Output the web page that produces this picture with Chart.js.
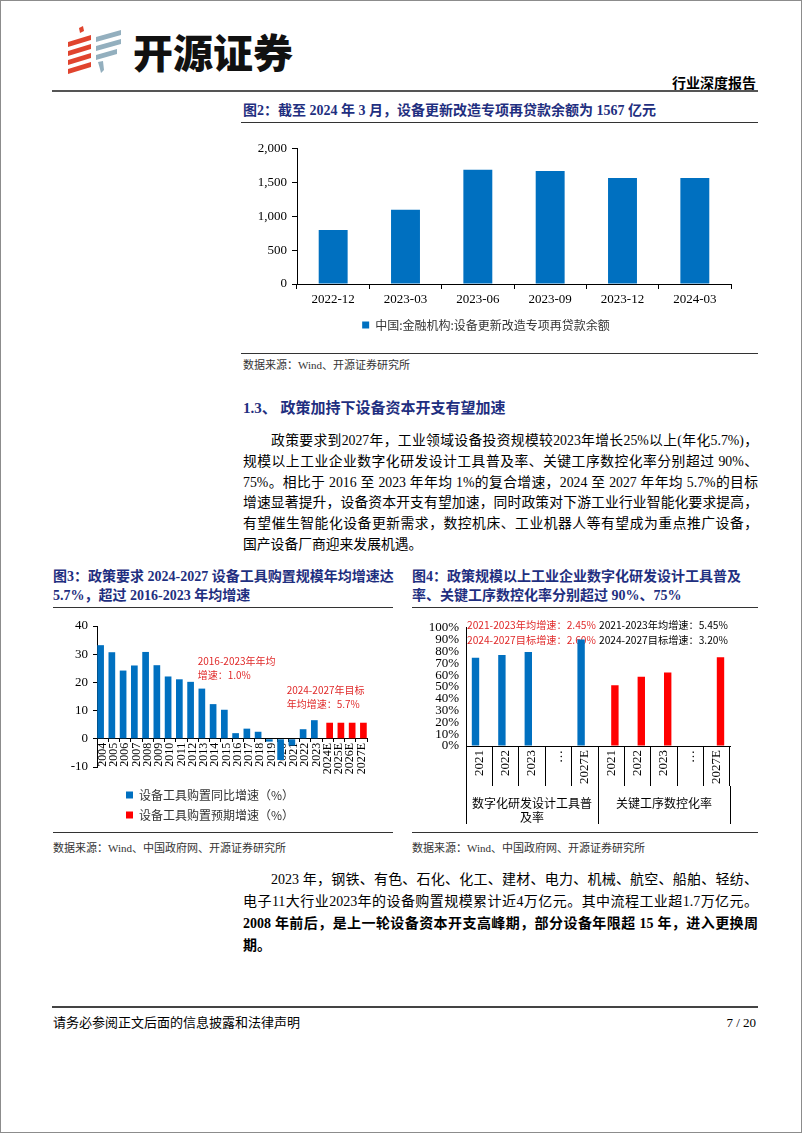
<!DOCTYPE html>
<html lang="zh-CN">
<head>
<meta charset="utf-8">
<title>开源证券 行业深度报告 7/20</title>
<script src="https://cdn.jsdelivr.net/npm/chart.js@4.4.1/dist/chart.umd.min.js"></script>
<style>
*{box-sizing:border-box;}
html,body{margin:0;padding:0;background:#fff;}
#page{position:relative;width:802px;height:1133px;border:1px solid #8c8c8c;overflow:hidden;
 font-family:"Liberation Serif","Noto Sans CJK SC",serif;color:#000;}
.a{position:absolute;white-space:nowrap;}
.navy{color:#1F2F80;font-weight:bold;}
.rule{position:absolute;height:0;border-top:1px solid #333;}
canvas{position:absolute;}
.p{position:absolute;left:242px;width:515px;font-size:13.8px;}
.p div{text-align:justify;text-align-last:justify;}
.p div.last{text-align-last:left;}
.src{font-size:11px;color:#333;line-height:14px;}
</style>
</head>
<body>
<div id="page">
  <svg class="a" style="left:64px;top:24px;" width="60" height="50" viewBox="0 0 60 50">
    <g fill="#E0442E">
      <polygon points="14,3 18,1 19,6 15,8"/>
      <polygon points="3,17 26,10 26,15 3,22"/>
      <polygon points="3,26 26,19 26,24 3,31"/>
      <polygon points="3,35 26,28 26,33 3,40"/>
      <polygon points="3,44 26,37 26,42 3,49"/>
    </g>
    <g fill="#93AFBE">
      <polygon points="31,12 56,5 56,10 31,17"/>
      <polygon points="31,21 56,14 56,19 31,26"/>
      <polygon points="31,30 52,24 52,29 31,35"/>
      <polygon points="33,37 38,36 39,45 36,48 35,44"/>
    </g>
  </svg>
  <div class="a" style="left:132px;top:26px;font-family:'Noto Sans CJK SC';font-weight:900;font-size:40px;line-height:48px;color:#111;">开源证券</div>
  <div class="a" style="right:45px;top:72px;font-family:'Noto Sans CJK SC';font-weight:bold;font-size:14px;line-height:18px;">行业深度报告</div>
  <div class="rule" style="left:51px;top:89px;width:706px;border-top:2px solid #555;"></div>

  <div class="a navy" style="left:242px;top:101px;font-size:14px;line-height:18px;">图2：截至 2024 年 3 月，设备更新改造专项再贷款余额为 1567 亿元</div>
  <div class="rule" style="left:240px;top:121px;width:517px;"></div>
  <canvas id="c2" width="517" height="205" style="left:240px;top:135px;"></canvas>
  <div class="rule" style="left:240px;top:352px;width:517px;"></div>
  <div class="a src" style="left:242px;top:357px;">数据来源：Wind、开源证券研究所</div>

  <div class="a navy" style="left:242px;top:397px;font-size:15px;line-height:20px;">1.3、 政策加持下设备资本开支有望加速</div>
  <div class="p" style="top:430px;line-height:20.8px;">
    <div style="text-indent:28px;">政策要求到2027年，工业领域设备投资规模较2023年增长25%以上(年化5.7%)，</div>
    <div>规模以上工业企业数字化研发设计工具普及率、关键工序数控化率分别超过 90%、</div>
    <div>75%。相比于 2016 至 2023 年年均 1%的复合增速，2024 至 2027 年年均 5.7%的目标</div>
    <div>增速显著提升，设备资本开支有望加速，同时政策对下游工业行业智能化要求提高，</div>
    <div>有望催生智能化设备更新需求，数控机床、工业机器人等有望成为重点推广设备，</div>
    <div class="last">国产设备厂商迎来发展机遇。</div>
  </div>

  <div class="a navy" style="left:52px;top:566px;font-size:14px;line-height:19px;">图3：政策要求 2024-2027 设备工具购置规模年均增速达<br>5.7%，超过 2016-2023 年均增速</div>
  <div class="a navy" style="left:411px;top:566px;font-size:14px;line-height:19px;">图4：政策规模以上工业企业数字化研发设计工具普及<br>率、关键工序数控化率分别超过 90%、75%</div>
  <div class="rule" style="left:52px;top:606px;width:340px;"></div>
  <div class="rule" style="left:411px;top:606px;width:346px;"></div>
  <canvas id="c3" width="340" height="218" style="left:52px;top:612px;"></canvas>
  <canvas id="c4" width="346" height="213" style="left:411px;top:612px;"></canvas>
  <div class="rule" style="left:52px;top:831px;width:340px;"></div>
  <div class="rule" style="left:411px;top:831px;width:346px;"></div>
  <div class="a src" style="left:52px;top:840px;">数据来源：Wind、中国政府网、开源证券研究所</div>
  <div class="a src" style="left:411px;top:840px;">数据来源：Wind、中国政府网、开源证券研究所</div>

  <div class="p" style="top:868px;line-height:22px;font-size:14px;">
    <div style="text-indent:28px;">2023 年，钢铁、有色、石化、化工、建材、电力、机械、航空、船舶、轻纺、</div>
    <div>电子11大行业2023年的设备购置规模累计近4万亿元。其中流程工业超1.7万亿元。</div>
    <div style="font-weight:bold;">2008 年前后，是上一轮设备资本开支高峰期，部分设备年限超 15 年，进入更换周</div>
    <div class="last" style="font-weight:bold;">期。</div>
  </div>

  <div class="rule" style="left:51px;top:1005px;width:706px;border-top:2px solid #444;"></div>
  <div class="a" style="left:52px;top:1013px;font-size:13px;line-height:18px;">请务必参阅正文后面的信息披露和法律声明</div>
  <div class="a" style="right:45px;top:1013px;font-size:13px;line-height:18px;">7 / 20</div>
</div>

<script>
// ---------- data ----------
const c2Labels = ['2022-12','2023-03','2023-06','2023-09','2023-12','2024-03'];
const c2Values = [800, 1100, 1690, 1670, 1567, 1567];
const c2SeriesName = '中国:金融机构:设备更新改造专项再贷款余额';

const c3Years = ['2004','2005','2006','2007','2008','2009','2010','2011','2012','2013','2014','2015',
                 '2016','2017','2018','2019','2020','2021','2022','2023','2024E','2025E','2026E','2027E'];
const c3Actual = [33.2, 30.7, 24.2, 26.0, 30.8, 26.1, 22.1, 21.1, 20.2, 17.8, 12.3, 10.3,
                  2.0, 3.6, 2.5, -1.0, -7.5, -2.4, 3.4, 6.6, null, null, null, null];
const c3Target = [null, null, null, null, null, null, null, null, null, null, null, null,
                  null, null, null, null, null, null, null, null, 5.7, 5.7, 5.7, 5.7];
const c3SeriesNames = ['设备工具购置同比增速（%）', '设备工具购置预期增速（%）'];
const c3NoteA = ['2016-2023年年均', '增速：1.0%'];
const c3NoteB = ['2024-2027年目标', '年均增速：5.7%'];

const c4Years = ['2021','2022','2023','…','2027E','2021','2022','2023','…','2027E'];
const c4Groups = [['数字化研发设计工具普', '及率'], '关键工序数控化率'];
const c4Digital = [74.7, 77.0, 79.6, null, 90.0, null, null, null, null, null];
const c4NC = [null, null, null, null, null, 51.3, 58.6, 62.2, null, 75.0];
const c4NoteRed = ['2021-2023年均增速：2.45%', '2024-2027目标增速：2.60%'];
const c4NoteBlack = ['2021-2023年均增速：5.45%', '2024-2027目标增速：3.20%'];

// ---------- styles ----------
const BLUE = '#0070C0', RED = '#FF0000', NOTE_RED = '#E02A2A';
const SERIF = "'Liberation Serif','Noto Sans CJK SC'";
const CJK = "'Noto Sans CJK SC'";
Chart.defaults.font.family = SERIF;
Chart.defaults.color = '#000';
Chart.defaults.animation = false;
Chart.defaults.responsive = false;
Chart.defaults.devicePixelRatio = 1;
Chart.defaults.plugins.tooltip.enabled = false;

// text notes anchored on scale values; optional "to" = right limit (category value) the text must fit in
const notesPlugin = {
  id: 'notes',
  beforeDatasetsDraw(chart, args, opts) {
    if (!opts.items) return;
    const {ctx, scales} = chart;
    ctx.save();
    ctx.textBaseline = 'middle';
    ctx.textAlign = 'left';
    opts.items.forEach(n => {
      const x = scales.x.getPixelForValue(n.x) + (n.dx || 0);
      const y = scales.y.getPixelForValue(n.y);
      let size = opts.size;
      if (n.to !== undefined) {
        const avail = scales.x.getPixelForValue(n.to) - x - 2;
        ctx.font = size + 'px ' + opts.family;
        const w = Math.max(...n.lines.map(t => ctx.measureText(t).width));
        if (w > avail) size = size * avail / w;
      }
      ctx.font = size + 'px ' + opts.family;
      ctx.fillStyle = n.color;
      n.lines.forEach((t, i) => ctx.fillText(t, x, y + i * opts.gap));
    });
    ctx.restore();
  }
};

// ---------- chart 2 ----------
new Chart(document.getElementById('c2'), {
  type: 'bar',
  data: { labels: c2Labels, datasets: [{ label: c2SeriesName, data: c2Values, backgroundColor: BLUE,
          categoryPercentage: 1, barPercentage: 0.4 }] },
  options: {
    layout: { padding: { top: 12, right: 27, left: 0, bottom: 0 } },
    plugins: {
      legend: { position: 'bottom', labels: { boxWidth: 7, boxHeight: 7, padding: 10, color: '#333',
                font: { size: 12, family: CJK } } }
    },
    scales: {
      x: { grid: { offset: true, drawOnChartArea: false, color: '#000', tickLength: 5 },
           border: { color: '#000' },
           ticks: { font: { size: 13 }, padding: 3, maxRotation: 0 },
           afterFit(s) { s.height = 25; } },
      y: { min: 0, max: 2000,
           ticks: { stepSize: 500, font: { size: 13 }, padding: 5,
                    callback: v => v.toLocaleString('en-US') },
           grid: { drawOnChartArea: false, color: '#000', tickLength: 5 },
           border: { color: '#000' },
           afterFit(s) { s.width = 56; } }
    }
  }
});

// ---------- chart 3 ----------
new Chart(document.getElementById('c3'), {
  type: 'bar',
  data: { labels: c3Years, datasets: [
    { label: c3SeriesNames[0], data: c3Actual, backgroundColor: BLUE, categoryPercentage: 0.72, barPercentage: 1.65 },
    { label: c3SeriesNames[1], data: c3Target, backgroundColor: RED, categoryPercentage: 0.72, barPercentage: 1.65 }
  ] },
  plugins: [notesPlugin],
  options: {
    layout: { padding: { top: 13, right: 26, left: 0, bottom: 0 } },
    plugins: {
      legend: { position: 'bottom', labels: { boxWidth: 7, boxHeight: 7, padding: 8, color: '#333',
                font: { size: 12, family: CJK } } },
      notes: { size: 10, family: CJK, gap: 14, items: [
        { lines: c3NoteA, x: 8.45, y: 27.5, color: NOTE_RED },
        { lines: c3NoteB, x: 16.36, y: 17.3, color: NOTE_RED } ] }
    },
    scales: {
      x: { position: { y: 0 },
           grid: { offset: true, drawOnChartArea: false, color: '#000', tickLength: 3 },
           border: { color: '#000' },
           ticks: { font: { size: 12 }, padding: 1, minRotation: 90, maxRotation: 90, autoSkip: false } },
      xpad: { type: 'category', position: 'bottom', grid: { display: false }, border: { display: false },
              ticks: { display: false }, afterFit(s) { s.height = 14; } },
      y: { min: -10, max: 40,
           ticks: { stepSize: 10, font: { size: 13 }, padding: 5 },
           grid: { drawOnChartArea: false, color: '#000', tickLength: 4 },
           border: { color: '#000' },
           afterFit(s) { s.width = 44; } }
    }
  }
});

// ---------- chart 4 ----------
new Chart(document.getElementById('c4'), {
  type: 'bar',
  data: { labels: c4Years, datasets: [
    { label: 'digital', data: c4Digital, backgroundColor: BLUE, categoryPercentage: 0.56, barPercentage: 1 },
    { label: 'nc', data: c4NC, backgroundColor: RED, categoryPercentage: 0.56, barPercentage: 1 }
  ] },
  plugins: [notesPlugin],
  options: {
    layout: { padding: { top: 13, right: 28, left: 0, bottom: 0 } },
    plugins: {
      legend: { display: false },
      notes: { size: 12, family: CJK, gap: 15, items: [
        { lines: c4NoteRed, x: -0.5, to: 4.5, dx: 1, y: 102.5, color: NOTE_RED },
        { lines: c4NoteBlack, x: 4.5, to: 9.5, dx: 1, y: 102.5, color: '#000' } ] }
    },
    scales: {
      x: { grid: { offset: true, drawOnChartArea: false, color: '#000', tickLength: 40 },
           border: { color: '#000' },
           ticks: { font: { size: 13 }, padding: -36, minRotation: 90, maxRotation: 90, autoSkip: false },
           afterFit(s) { s.height = 40; } },
      x2: { type: 'category', labels: c4Groups, position: 'bottom', offset: true,
            grid: { offset: true, drawOnChartArea: false, color: '#000', tickLength: 38 },
            border: { display: false },
            ticks: { font: { size: 12, family: CJK }, padding: -28, maxRotation: 0, autoSkip: false },
            afterFit(s) { s.height = 40; } },
      y: { min: 0, max: 100,
           ticks: { stepSize: 10, font: { size: 13 }, padding: 7, autoSkip: false, callback: v => v + '%' },
           grid: { drawOnChartArea: false, drawTicks: false },
           border: { color: '#000' },
           afterFit(s) { s.width = 54; } }
    }
  }
});
</script>
</body>
</html>
